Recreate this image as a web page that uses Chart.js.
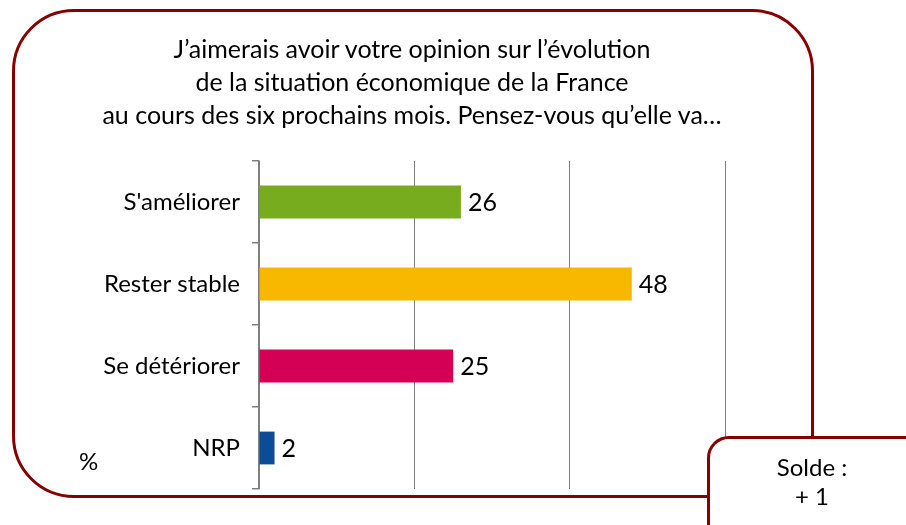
<!DOCTYPE html>
<html>
<head>
<meta charset="utf-8">
<script src="https://cdn.jsdelivr.net/npm/chart.js@4"></script>
<style>
  html, body { margin: 0; padding: 0; background: #fff; }
  #wrap { position: relative; width: 906px; height: 525px; overflow: hidden; font-family: Lato, "DejaVu Sans", sans-serif; }
  #frame { position: absolute; left: 12px; top: 9px; width: 796px; height: 483px; border: 3px solid #850000; border-radius: 62px; }
  #chart { position: absolute; left: 0; top: 0; }
  #title { position: absolute; left: 0; width: 824px; top: 32px; text-align: center; font-size: 25px; line-height: 33px; color: #000; }
  #pct { position: absolute; left: 79px; top: 446px; font-size: 24px; color: #000; }
  #solde { position: absolute; left: 707px; top: 436px; width: 230px; height: 120px; border: 3px solid #850000; border-radius: 22px; background: #fff; }
  #solde div { position: absolute; left: 0; width: 204px; text-align: center; font-size: 24px; color: #000; }
</style>
</head>
<body>
<div id="wrap">
  <div id="frame"></div>
  <canvas id="chart" width="906" height="525"></canvas>
  <div id="title">J’aimerais avoir votre opinion sur l’évolution<br>de la situation économique de la France<br>au cours des six prochains mois. Pensez-vous qu’elle va…</div>
  <div id="pct">%</div>
  <div id="solde"><div style="top:13px">Solde :</div><div style="top:42px">+ 1</div></div>
</div>
<script>
// Opinion sur l'évolution de la situation économique
const categories = ["S'améliorer", 'Rester stable', 'Se détériorer', 'NRP'];
const values = [26, 48, 25, 2];
const barColors = ['#78ac1f', '#f8b800', '#d40055', '#0a4c96'];
const xTicks = [0, 20, 40, 60];

// write the value just right of each bar
const valueLabels = {
    id: 'valueLabels',
    afterDatasetsDraw(chart) {
        const ctx = chart.ctx;
        const meta = chart.getDatasetMeta(0);
        ctx.save();
        ctx.font = '25px Lato, "DejaVu Sans", sans-serif';
        ctx.fillStyle = '#000';
        ctx.textBaseline = 'middle';
        meta.data.forEach((bar, i) => {
            ctx.fillText(values[i], bar.x + 7, bar.y + 1);
        });
        ctx.restore();
    }
};

const ctx = document.getElementById('chart').getContext('2d');
const chart = new Chart(ctx, {
    type: 'bar',
    data: {
        labels: categories,
        datasets: [{
            data: values,
            backgroundColor: barColors,
            barPercentage: 0.4,
            categoryPercentage: 1
        }]
    },
    options: {
        indexAxis: 'y',
        responsive: false,
        animation: false,
        layout: { padding: { left: 0, right: 181, top: 161, bottom: 36 } },
        plugins: { legend: { display: false }, tooltip: { enabled: false } },
        scales: {
            x: {
                min: 0,
                max: 60,
                afterBuildTicks: s => { s.ticks = xTicks.map(v => ({ value: v })); },
                ticks: { display: false },
                grid: { color: '#7f7f7f', lineWidth: 1, drawTicks: false },
                border: { display: false }
            },
            y: {
                afterFit: s => { s.width = 259; },
                ticks: { color: '#000', font: { family: 'Lato, "DejaVu Sans", sans-serif', size: 24 }, padding: 12 },
                grid: { drawOnChartArea: false, drawTicks: true, tickLength: 7, color: '#7f7f7f', lineWidth: 1.5 },
                border: { display: true, color: '#7f7f7f', width: 1.5 }
            }
        }
    },
    plugins: [valueLabels]
});
</script>
</body>
</html>
